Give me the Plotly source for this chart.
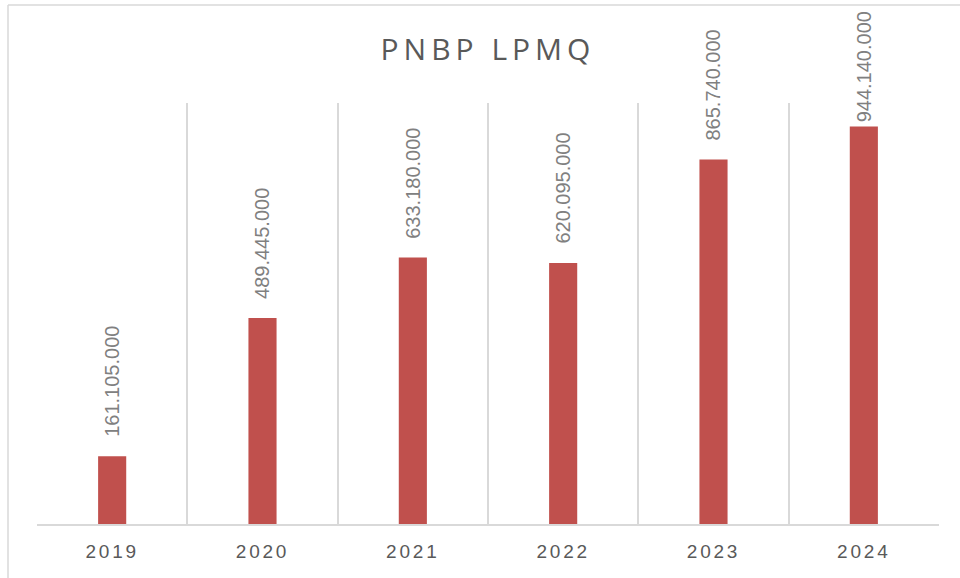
import plotly.graph_objects as go

categories = ["2019", "2020", "2021", "2022", "2023", "2024"]
values = [161105000, 489445000, 633180000, 620095000, 865740000, 944140000]
title_text = "PNBP LPMQ"

W, H = 960, 578
L, R, T, B = 37, 21, 103, 54
YMAX = 1000000000

pw = W - L - R
ph = H - T - B

LABEL_GAP = 17      # px between bar top and label box
LABEL_LEN = 114     # approx rotated label box length in px
TOP_LIMIT = 10      # label box must stay below this y (px from top)


def fmt(v):
    return f"{v:,.0f}".replace(",", ".")


annotations = []
for i, v in enumerate(values):
    bar_top_px = T + (1 - v / YMAX) * ph
    bottom = bar_top_px - LABEL_GAP
    if bottom - LABEL_LEN < TOP_LIMIT:
        bottom = TOP_LIMIT + LABEL_LEN
    shift = bar_top_px - bottom
    annotations.append(dict(
        x=i, y=v, xref="x", yref="y",
        text=fmt(v), textangle=-90, showarrow=False,
        xanchor="center", yanchor="bottom", yshift=shift,
        font=dict(family="Liberation Sans, Arial", size=20, color="#808080"),
    ))

fig = go.Figure(
    go.Bar(
        x=categories,
        y=values,
        marker=dict(color="#C0504D", line=dict(width=0)),
        hoverinfo="skip",
    )
)

fig.update_layout(
    width=W,
    height=H,
    margin=dict(l=L, r=R, t=T, b=B, pad=0),
    paper_bgcolor="white",
    plot_bgcolor="white",
    bargap=0.813,
    showlegend=False,
    annotations=annotations,
    title=dict(
        text=title_text,
        x=488 / W,
        xanchor="center",
        xref="container",
        y=1 - 49 / H,
        yref="container",
        yanchor="middle",
        font=dict(family="Open Sans, Liberation Sans", size=30, color="#595959"),
    ),
    xaxis=dict(
        type="category",
        tickson="boundaries",
        showgrid=True,
        gridcolor="#D9D9D9",
        gridwidth=1.5,
        showline=True,
        linecolor="#D9D9D9",
        linewidth=1.5,
        ticks="",
        ticklabelstandoff=9,
        tickfont=dict(family="Liberation Sans, Arial", size=19, color="#595959"),
        range=[-0.5, 5.5],
        fixedrange=True,
    ),
    yaxis=dict(
        range=[0, YMAX],
        showgrid=False,
        zeroline=False,
        showticklabels=False,
        showline=False,
        ticks="",
        fixedrange=True,
    ),
    shapes=[
        dict(type="line", xref="paper", yref="paper",
             x0=(8 - L) / pw, x1=(W - L) / pw,
             y0=(H - 5 - B) / ph, y1=(H - 5 - B) / ph,
             line=dict(color="#D9D9D9", width=1.5), layer="below"),
        dict(type="line", xref="paper", yref="paper",
             x0=(8 - L) / pw, x1=(8 - L) / pw,
             y0=(H - 5 - B) / ph, y1=-B / ph,
             line=dict(color="#D9D9D9", width=1.5), layer="below"),
    ],
)

post = """
document.body.style.margin='0';
document.body.style.overflow='hidden';
var gd = document.getElementById('{plot_id}');
function fixSpacing(){
  document.querySelectorAll('.gtitle').forEach(function(e){ e.style.letterSpacing='5px'; });
  document.querySelectorAll('.xtick text').forEach(function(e){ e.style.letterSpacing='2.8px'; });
}
fixSpacing();
if (gd && gd.on) { gd.on('plotly_afterplot', fixSpacing); }
"""

fig.write_html("out.html", post_script=post, config={"displayModeBar": False})
